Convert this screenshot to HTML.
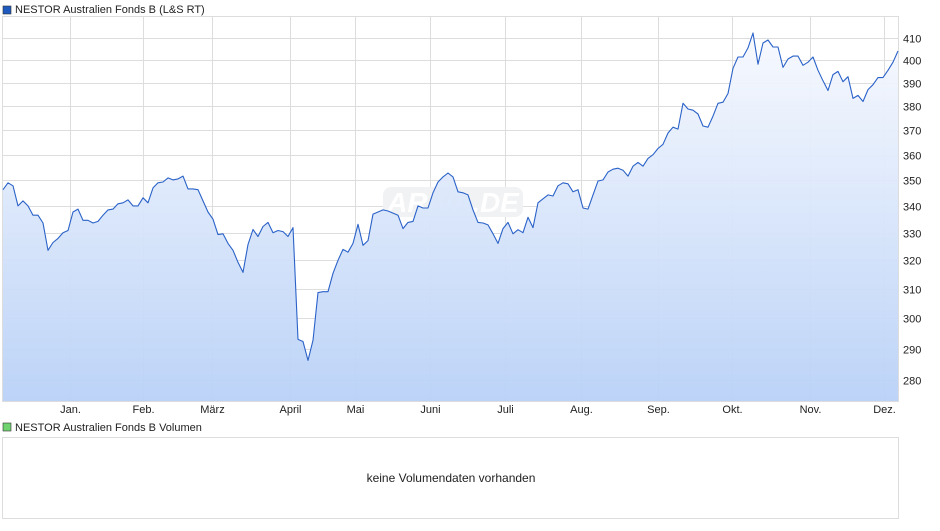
<!DOCTYPE html>
<html><head><meta charset="utf-8"><style>
body{margin:0;background:#fff;font-family:"Liberation Sans",Arial,sans-serif;}
svg text{font-family:"Liberation Sans",Arial,sans-serif;}
</style></head><body>
<svg id="c" width="940" height="526" viewBox="0 0 940 526" xmlns="http://www.w3.org/2000/svg">
<defs><linearGradient id="g" x1="0" y1="0" x2="0" y2="1">
<stop offset="0" stop-color="#f7f9fe"/><stop offset="1" stop-color="#b9d1f7"/></linearGradient></defs>
<rect x="3" y="6" width="8" height="8" fill="#1f5bbf" stroke="#333" stroke-width="0.6"/>
<text x="15" y="13" font-size="11" fill="#222">NESTOR Australien Fonds B (L&amp;S RT)</text>
<g id="grid"></g>
<g id="plot"></g>
<g id="axes"></g>
<rect x="3" y="423" width="8" height="8" fill="#6fd36f" stroke="#333" stroke-width="0.6"/>
<text x="15" y="431" font-size="11" fill="#222">NESTOR Australien Fonds B Volumen</text>
<rect x="2.5" y="437.5" width="896" height="81" fill="#fff" stroke="#ddd"/>
<text x="451" y="482" font-size="12" fill="#222" text-anchor="middle">keine Volumendaten vorhanden</text>
</svg>
<script>
const values=[346.2,348.9,347.7,340,341.9,340,336.5,336.5,333.6,323.6,326.4,327.9,330,330.8,337.7,338.8,334.6,334.6,333.6,334.2,336.5,338.5,338.8,340.8,341.2,342.3,340,340,343.1,341.2,346.9,348.9,349.2,350.8,350,350.4,351.5,346.5,346.5,346.2,341.9,337.7,335,329.3,329.6,326.1,323.6,319.3,315.7,325.7,331.2,328.6,332.3,333.8,330,330.8,330.4,328.6,331.9,293,292.3,286.2,292.7,308.7,309,309,315.4,320,323.9,322.9,326.1,333.1,325.4,327.1,336.9,337.7,338.5,338.1,337.3,336.5,331.5,333.8,334.2,340,339.2,339.2,345,349.2,351.2,352.7,351.2,345.4,345,344.2,338.5,333.8,333.6,332.9,329.6,326.1,331.5,333.8,329.6,331.1,330,335.7,331.9,341.2,342.7,344.2,343.8,347.7,348.9,348.5,345.4,346.2,339.2,338.8,344.2,349.6,350,353.1,354.2,354.6,353.8,351.5,355.4,356.9,355.4,358.5,360,362.5,364.2,368.8,371.2,370.4,381.2,378.8,378.3,376.7,371.7,371.2,375.8,381.2,381.7,385.4,396.4,401.4,401.4,405.5,412.3,398.2,407.7,409.1,405.9,405.9,396.8,400.5,401.8,401.8,397.7,399.1,401.4,395.5,390.9,386.7,393.6,395,390.5,392.7,383.3,384.6,382,387.1,389.2,392.3,392.3,395.5,399.1,404.1];
const yTicks=[280,290,300,310,320,330,340,350,360,370,380,390,400,410];
const monthLabels=["Jan.","Feb.","März","April","Mai","Juni","Juli","Aug.","Sep.","Okt.","Nov.","Dez."];
const monthIdx=[13.4,28,41.8,57.4,70.4,85.4,100.4,115.6,131,145.8,161.4,176.2];
const X0=3,X1=898,TOP=16,BOT=401;
const xs=i=>X0+i*(X1-X0)/(values.length-1);
const ys=v=>38+897*(Math.log(410)-Math.log(v));
const NS="http://www.w3.org/2000/svg";
function mk(t,a,p){const e=document.createElementNS(NS,t);for(const k in a)e.setAttribute(k,a[k]);p.appendChild(e);return e;}
const grid=document.getElementById('grid'),plot=document.getElementById('plot'),axes=document.getElementById('axes');
yTicks.forEach(v=>{const y=Math.round(ys(v))+0.5;
 const l=mk('line',{x1:X0,x2:X1,y1:y,y2:y,stroke:'#ddd','stroke-width':1},grid);
 
 
 const t=mk('text',{x:903,y:y+4,'font-size':11,fill:'#222'},axes);t.textContent=v;
 
 
});
monthIdx.forEach((m,k)=>{const x=Math.round(xs(m))+0.5;
 const l=mk('line',{x1:x,x2:x,y1:TOP,y2:BOT,stroke:'#ddd','stroke-width':1},grid);
 
 
 const t=mk('text',{x:x,y:413,'font-size':11,fill:'#222','text-anchor':'middle'},axes);t.textContent=monthLabels[k];
 
 
});
const b=mk('rect',{x:X0-0.5,y:TOP+0.5,width:X1-X0+1,height:BOT-TOP,fill:'none',stroke:'#ddd'},grid);


const wb=mk('rect',{x:383,y:187,width:140,height:30,rx:8,fill:'#f1f2f4'},grid);


const wm=mk('text',{x:453,y:212,'font-size':28,'font-weight':'bold','font-style':'italic',fill:'#ffffff','text-anchor':'middle'},grid);wm.textContent='ARIVA.DE';


let d='';values.forEach((v,i)=>{d+=(i?'L':'M')+xs(i).toFixed(1)+','+ys(v).toFixed(1);});
const area=mk('path',{d:d+`L${X1},${BOT}L${X0},${BOT}Z`,fill:'url(#g)',opacity:0.95},plot);


const line=mk('path',{d:d,fill:'none',stroke:'#2a62c8','stroke-width':1.1,'stroke-linejoin':'round'},plot);


</script>
</body></html>
